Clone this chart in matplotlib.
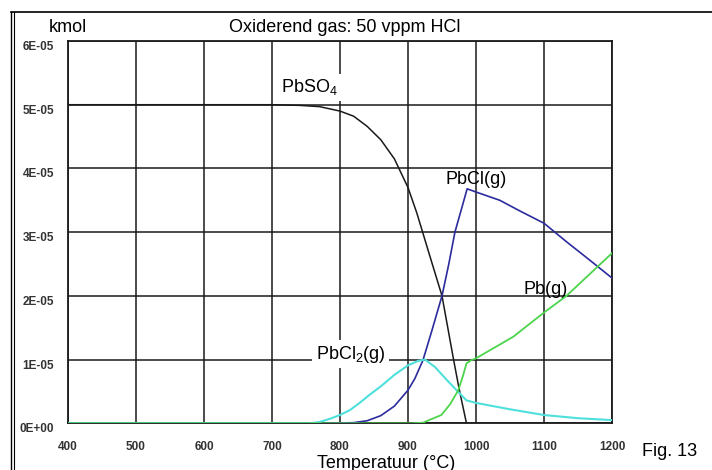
import matplotlib
matplotlib.use("Agg")
import matplotlib.pyplot as plt
from matplotlib.lines import Line2D

plt.rcParams["font.family"] = ["Liberation Sans", "DejaVu Sans"]
plt.rcParams["mathtext.default"] = "regular"

# values in units of 1E-05 kmol
t_pbso4 = [400, 500, 600, 700, 740, 770, 800, 820, 840, 860, 880, 900, 913, 930, 950, 967, 975, 986]
v_pbso4 = [5.0, 5.0, 5.0, 5.0, 4.99, 4.97, 4.9, 4.82, 4.66, 4.45, 4.15, 3.7, 3.3, 2.7, 2.0, 1.0, 0.55, 0.0]

t_pbcl = [400, 780, 820, 840, 860, 880, 900, 910, 922, 935, 950, 960, 969, 987, 1000, 1035, 1065, 1100, 1133, 1165, 1200]
v_pbcl = [0, 0, 0.01, 0.04, 0.12, 0.27, 0.52, 0.7, 0.99, 1.45, 2.0, 2.5, 3.0, 3.68, 3.63, 3.5, 3.33, 3.14, 2.85, 2.58, 2.28]

t_pbcl2 = [400, 755, 770, 785, 800, 815, 830, 845, 860, 880, 900, 915, 925, 940, 957, 976, 986, 1000, 1050, 1100, 1150, 1200]
v_pbcl2 = [0, 0, 0.02, 0.07, 0.13, 0.21, 0.33, 0.46, 0.58, 0.76, 0.91, 0.98, 1.0, 0.88, 0.68, 0.47, 0.36, 0.32, 0.22, 0.13, 0.08, 0.05]

t_pb = [400, 905, 922, 949, 962, 974, 981, 986, 993, 1000, 1055, 1099, 1133, 1165, 1200]
v_pb = [0, 0, 0.01, 0.13, 0.3, 0.52, 0.75, 0.94, 0.99, 1.02, 1.36, 1.73, 2.0, 2.32, 2.67]

x_ticks = [400, 500, 600, 700, 800, 900, 1000, 1100, 1200]
y_ticks = [0, 1, 2, 3, 4, 5, 6]
y_labels = ["0E+00", "1E-05", "2E-05", "3E-05", "4E-05", "5E-05", "6E-05"]

fig = plt.figure(figsize=(7.12, 4.70), dpi=100)
ax = fig.add_axes([68 / 712, 1 - 423.3 / 470, 544 / 712, 382.3 / 470])

ax.plot(t_pbso4, v_pbso4, color="#1a1a1a", lw=1.1, zorder=3)
ax.plot(t_pbcl, v_pbcl, color="#2b2b9e", lw=1.2, zorder=3)
ax.plot(t_pbcl2, v_pbcl2, color="#4fe0dc", lw=1.5, zorder=3)
ax.plot(t_pb, v_pb, color="#4cd44c", lw=1.3, zorder=3)

ax.set_xlim(400, 1200)
ax.set_ylim(0, 6)
ax.set_xticks(x_ticks)
ax.set_yticks(y_ticks)
ax.set_yticklabels(y_labels)
ax.grid(True, color="#1a1a1a", lw=1.1, zorder=0)
ax.set_axisbelow(True)
for s in ax.spines.values():
    s.set_color("#1a1a1a")
    s.set_linewidth(1.3)
ax.tick_params(length=0, labelsize=8.5, labelcolor="#333333")
ax.tick_params(axis="x", pad=12.5)
ax.tick_params(axis="y", pad=10)
for lab in ax.get_xticklabels() + ax.get_yticklabels():
    lab.set_fontweight("bold")
for lab in ax.get_yticklabels():
    lab.set_va("top")

box = dict(facecolor="white", edgecolor="none", pad=2.5)
ax.text(713, 5.12, "PbSO$_4$", fontsize=13, ha="left", va="bottom", bbox=box, zorder=2)
ax.text(955, 3.7, "PbCl(g)", fontsize=13, ha="left", va="bottom", zorder=2)
ax.text(1070, 1.97, "Pb(g)", fontsize=13, ha="left", va="bottom", zorder=2)
ax.text(764, 0.92, "PbCl$_2$(g)", fontsize=13, ha="left", va="bottom", bbox=box, zorder=2)

fig.text(49 / 712, 1 - 27 / 470, "kmol", fontsize=13, ha="left", va="center")
fig.text(345 / 712, 1 - 27 / 470, "Oxiderend gas: 50 vppm HCl", fontsize=13, ha="center", va="center")
fig.text(386 / 712, 1 - 463 / 470, "Temperatuur (°C)", fontsize=13, ha="center", va="center")
fig.text(670 / 712, 1 - 452 / 470, "Fig. 13", fontsize=13, ha="center", va="center")

# outer frame
fig.add_artist(Line2D([11 / 712, 1.0], [1 - 12 / 470, 1 - 12 / 470], color="black", lw=1.2, transform=fig.transFigure))
fig.add_artist(Line2D([11 / 712, 11 / 712], [0, 1 - 12 / 470], color="black", lw=1.0, transform=fig.transFigure))
fig.add_artist(Line2D([13.5 / 712, 13.5 / 712], [0, 1 - 12 / 470], color="black", lw=0.8, transform=fig.transFigure))

fig.savefig("out.png", dpi=100)
